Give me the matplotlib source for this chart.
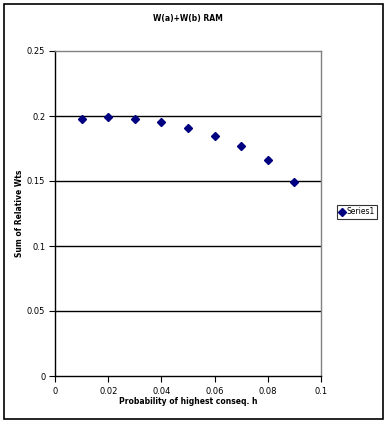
import matplotlib
matplotlib.use("Agg")
import matplotlib.pyplot as plt
from matplotlib.patches import Rectangle

x_vals = [0.01, 0.02, 0.03, 0.04, 0.05, 0.06, 0.07, 0.08, 0.09]
y_vals = [0.1975, 0.1992, 0.1975, 0.1952, 0.1906, 0.1844, 0.1767, 0.1659, 0.1492]
x_ticks = [0, 0.02, 0.04, 0.06, 0.08, 0.1]
x_tick_labels = ["0", "0.02", "0.04", "0.06", "0.08", "0.1"]
y_ticks = [0, 0.05, 0.1, 0.15, 0.2, 0.25]
y_tick_labels = ["0", "0.05", "0.1", "0.15", "0.2", "0.25"]
title = "W(a)+W(b) RAM"
xlabel = "Probability of highest conseq. h"
ylabel = "Sum of Relative Wts"
series_name = "Series1"

W, H = 390, 424
fig = plt.figure(figsize=(W / 100, H / 100), dpi=100)
fig.patch.set_facecolor("white")

# outer border
fig.patches.append(Rectangle((4 / W, 1 - 419 / H), 379 / W, 415 / H,
                             transform=fig.transFigure, fill=False,
                             edgecolor="black", linewidth=1.2))

ax = fig.add_axes([55 / W, 1 - 376 / H, (321 - 55) / W, (376 - 51) / H])
ax.set_xlim(0, 0.1)
ax.set_ylim(0, 0.25)
for yv in y_ticks[1:-1]:
    ax.axhline(yv, color="black", linewidth=1.0, zorder=1)

line, = ax.plot(x_vals, y_vals, linestyle="none", marker="D", markersize=4.2,
                color="#000080", zorder=3, label=series_name)

ax.set_xticks(x_ticks)
ax.set_xticklabels(x_tick_labels, fontsize=6)
ax.set_yticks(y_ticks)
ax.set_yticklabels(y_tick_labels, fontsize=6)
ax.tick_params(axis="both", length=4, width=0.8, direction="out", pad=3)
ax.tick_params(axis="x", pad=4)

for s in ["top", "right"]:
    ax.spines[s].set_color("#808080")
    ax.spines[s].set_linewidth(1.0)
for s in ["left", "bottom"]:
    ax.spines[s].set_color("black")
    ax.spines[s].set_linewidth(1.0)

fig.text(0.5 * (55 + 321) / W, 1 - 19 / H, title, ha="center", va="center",
         fontsize=5.5, fontweight="bold")
ax.set_xlabel(xlabel, fontsize=5.5, fontweight="bold")
ax.set_ylabel(ylabel, fontsize=5.5, fontweight="bold")
ax.xaxis.set_label_coords(0.5, (376 - 401) / 325, transform=ax.transAxes)
ax.yaxis.set_label_coords((20 - 55) / 266, 0.5, transform=ax.transAxes)
ax.xaxis.label.set_va("center")
ax.yaxis.label.set_va("center")

leg = fig.legend(handles=[line], labels=[series_name], loc="center left",
                 bbox_to_anchor=(337 / W, 1 - 212 / H), fontsize=5.5,
                 frameon=True, fancybox=False, edgecolor="black",
                 handlelength=0.6, handletextpad=0.3, borderpad=0.3,
                 borderaxespad=0, markerscale=0.9)
leg.get_frame().set_linewidth(0.8)

fig.savefig("out.png", dpi=100)
